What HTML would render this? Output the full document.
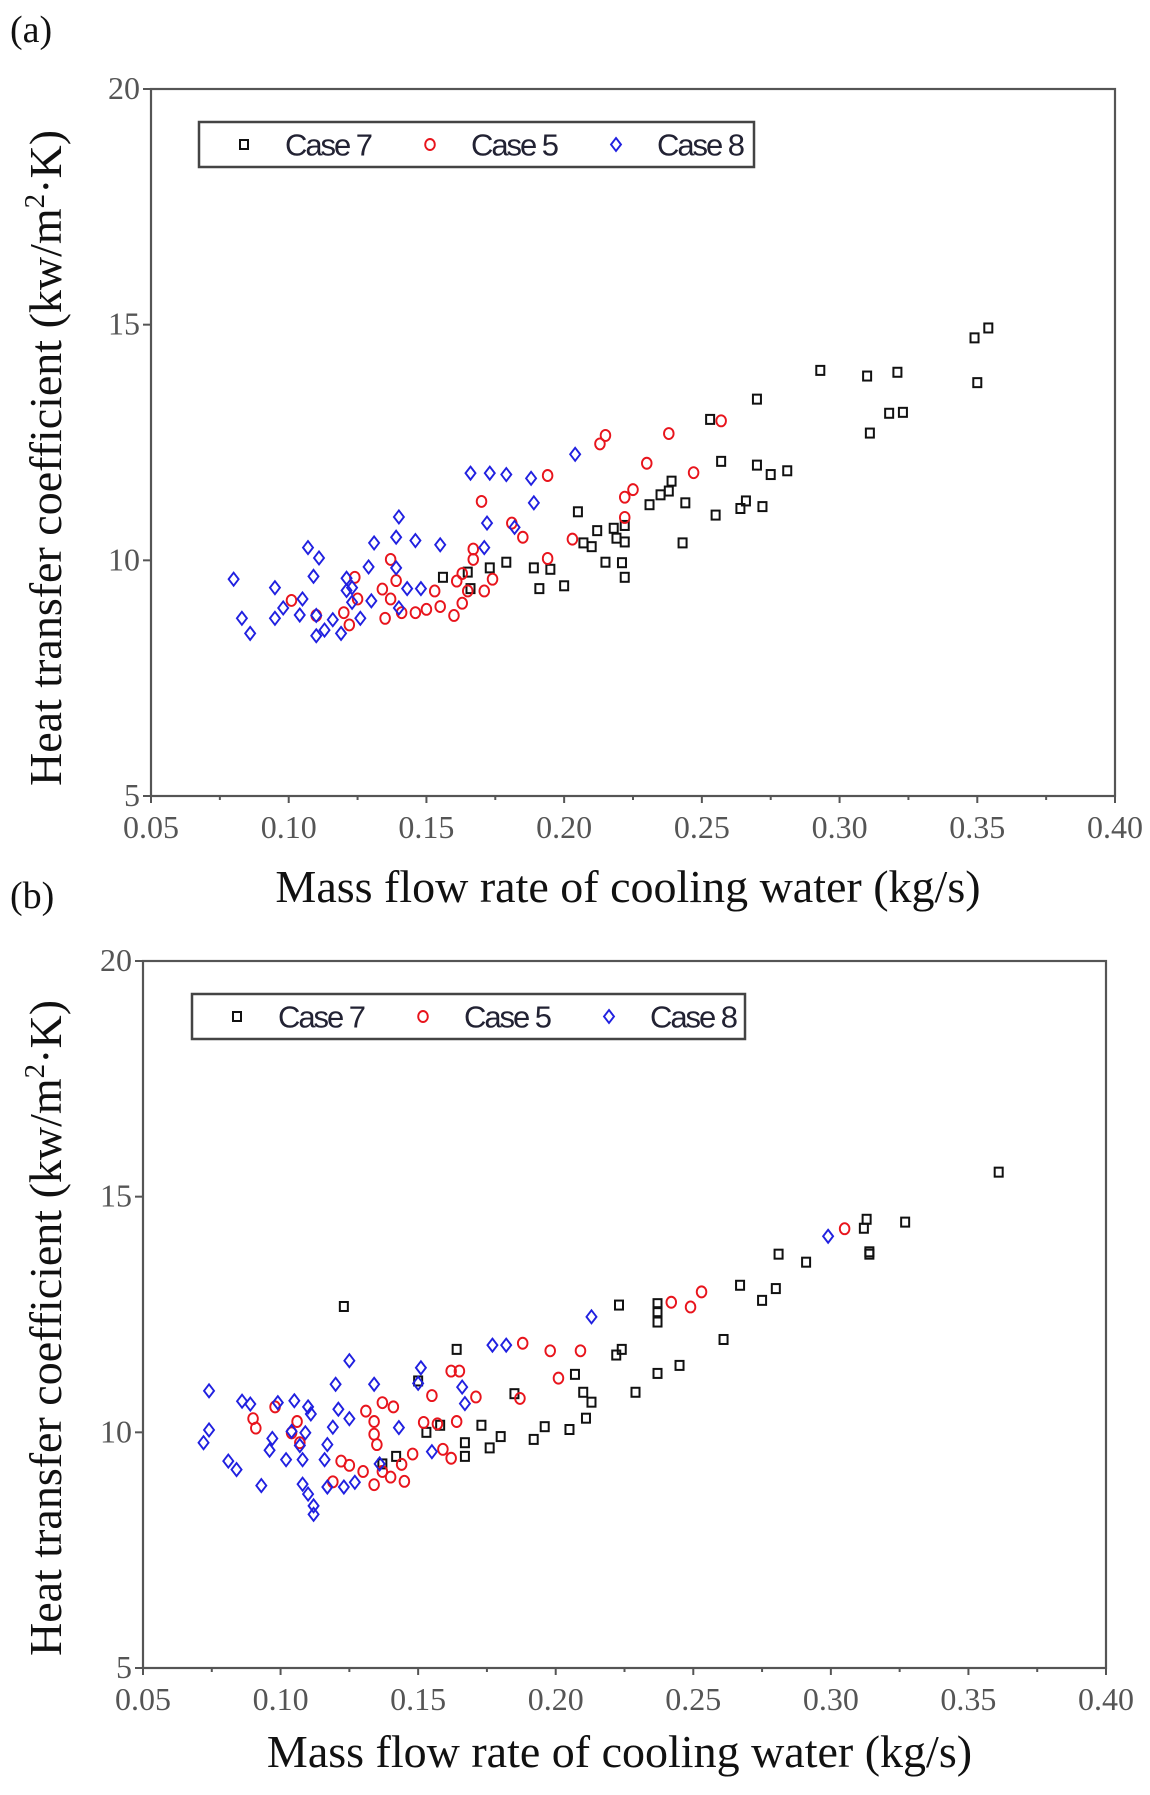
<!DOCTYPE html>
<html><head><meta charset="utf-8"><style>
html,body{margin:0;padding:0;background:#fff;}
svg{display:block;}
</style></head><body>
<svg id="fig" width="1150" height="1795" viewBox="0 0 1150 1795" xmlns="http://www.w3.org/2000/svg"></svg>
<script>
const xTicks = [0.05,0.10,0.15,0.20,0.25,0.30,0.35,0.40];
const xTickLabels = ["0.05","0.10","0.15","0.20","0.25","0.30","0.35","0.40"];
const yTicks = [5,10,15,20];
const yTickLabels = ["5","10","15","20"];
const seriesNames = ["Case 7","Case 5","Case 8"];

const a7x=[0.354,0.349,0.350,0.293,0.310,0.321,0.270,0.311,0.318,0.323,0.253,0.257,0.270,0.275,0.281,0.255,0.266,0.264,0.272,0.239,0.238,0.235,0.231,0.244,0.243,0.205,0.212,0.218,0.222,0.207,0.210,0.219,0.222,0.215,0.221,0.222,0.179,0.173,0.189,0.195,0.191,0.200,0.156,0.165,0.166];
const a7y=[14.93,14.72,13.77,14.03,13.91,13.99,13.42,12.70,13.12,13.14,12.99,12.10,12.02,11.82,11.90,10.96,11.26,11.10,11.14,11.68,11.47,11.39,11.18,11.22,10.37,11.03,10.63,10.68,10.74,10.37,10.29,10.47,10.39,9.96,9.95,9.64,9.96,9.84,9.84,9.81,9.40,9.46,9.64,9.75,9.40];
const a5x=[0.257,0.238,0.215,0.213,0.230,0.247,0.194,0.225,0.222,0.170,0.222,0.203,0.185,0.181,0.194,0.167,0.167,0.137,0.174,0.163,0.161,0.165,0.153,0.139,0.134,0.137,0.125,0.141,0.146,0.150,0.155,0.160,0.171,0.135,0.120,0.122,0.110,0.101,0.124,0.163];
const a5y=[12.96,12.69,12.65,12.47,12.06,11.86,11.80,11.50,11.34,11.25,10.91,10.45,10.49,10.79,10.04,10.24,10.02,10.02,9.60,9.72,9.56,9.35,9.35,9.57,9.39,9.18,9.18,8.89,8.89,8.96,9.02,8.83,9.35,8.77,8.89,8.63,8.83,9.15,9.64,9.09];
const a8x=[0.080,0.083,0.086,0.095,0.095,0.098,0.104,0.105,0.107,0.111,0.109,0.110,0.110,0.113,0.116,0.119,0.121,0.121,0.123,0.123,0.126,0.129,0.130,0.131,0.139,0.139,0.140,0.140,0.143,0.146,0.148,0.155,0.166,0.173,0.179,0.188,0.189,0.204,0.172,0.171,0.182];
const a8y=[9.60,8.77,8.45,9.42,8.77,8.99,8.84,9.18,10.27,10.05,9.66,8.83,8.40,8.52,8.74,8.45,9.36,9.62,9.42,9.11,8.77,9.86,9.14,10.37,10.49,9.84,10.92,8.99,9.40,10.42,9.40,10.33,11.85,11.85,11.82,11.74,11.22,12.25,10.79,10.27,10.70];

const b7x=[0.361,0.327,0.313,0.312,0.314,0.314,0.281,0.291,0.267,0.280,0.275,0.237,0.237,0.237,0.223,0.261,0.224,0.222,0.245,0.237,0.229,0.207,0.210,0.213,0.211,0.185,0.205,0.196,0.192,0.180,0.176,0.173,0.167,0.167,0.158,0.153,0.164,0.123,0.150,0.142,0.137];
const b7y=[15.52,14.46,14.52,14.33,13.83,13.78,13.78,13.61,13.12,13.05,12.80,12.73,12.56,12.34,12.70,11.97,11.76,11.64,11.42,11.25,10.85,11.23,10.85,10.64,10.30,10.82,10.06,10.12,9.85,9.91,9.67,10.15,9.78,9.49,10.15,10.00,11.76,12.67,11.09,9.49,9.33];
const b5x=[0.305,0.253,0.249,0.242,0.188,0.198,0.209,0.201,0.187,0.162,0.165,0.155,0.171,0.137,0.141,0.131,0.134,0.134,0.135,0.152,0.157,0.164,0.106,0.104,0.090,0.091,0.098,0.122,0.125,0.130,0.134,0.140,0.145,0.144,0.148,0.159,0.162,0.119,0.137,0.107];
const b5y=[14.32,12.98,12.66,12.76,11.89,11.73,11.73,11.15,10.72,11.30,11.30,10.78,10.75,10.63,10.54,10.45,10.23,9.96,9.74,10.21,10.18,10.23,10.23,9.99,10.29,10.09,10.54,9.39,9.30,9.17,8.89,9.05,8.96,9.32,9.54,9.64,9.45,8.95,9.17,9.78];
const b8x=[0.299,0.213,0.177,0.182,0.125,0.151,0.150,0.134,0.120,0.166,0.167,0.074,0.086,0.089,0.099,0.105,0.110,0.111,0.121,0.125,0.119,0.104,0.109,0.074,0.072,0.097,0.096,0.102,0.107,0.108,0.117,0.116,0.108,0.110,0.112,0.112,0.081,0.084,0.093,0.117,0.123,0.127,0.136,0.143,0.155];
const b8y=[14.16,12.45,11.85,11.85,11.52,11.37,11.04,11.02,11.02,10.96,10.61,10.88,10.66,10.60,10.63,10.67,10.54,10.39,10.49,10.29,10.11,10.02,9.99,10.05,9.78,9.87,9.62,9.42,9.72,9.42,9.74,9.42,8.90,8.69,8.44,8.26,9.39,9.21,8.87,8.84,8.84,8.94,9.33,10.10,9.59];

const NS="http://www.w3.org/2000/svg";
const svg=document.getElementById('fig');
function mk(tag,attrs,parent){const e=document.createElementNS(NS,tag);for(const k in attrs)e.setAttribute(k,attrs[k]);(parent||svg).appendChild(e);return e;}
const colors=["#111","#e8141c","#2020e0"];

function marker(g,kind,cx,cy,col){
  let e;
  if(kind===0){e=mk('rect',{x:cx-4,y:cy-4.5,width:8,height:9,fill:'none',stroke:col,'stroke-width':2},g);}
  else if(kind===1){e=mk('ellipse',{cx:cx,cy:cy,rx:4.8,ry:5.5,fill:'none',stroke:col,'stroke-width':1.9},g);}
  else {e=mk('polygon',{points:`${cx},${cy-6.5} ${cx+5},${cy} ${cx},${cy+6.5} ${cx-5},${cy}`,fill:'none',stroke:col,'stroke-width':1.9},g);}
  return e;
}

function chart(cfg){
  const {L,R,T,B,label,labelY,titleY,legend,series,name,yTitleC}=cfg;
  const g=mk('g',{});
  
  
  const sx=v=>L+(v-0.05)/(0.40-0.05)*(R-L);
  const sy=v=>B-(v-5)/(20-5)*(B-T);
  const pl=mk('text',{x:10,y:labelY,'font-family':'Liberation Serif, serif','font-size':38,fill:'#111'},g);
  pl.textContent=label;
  
  
  const fr=mk('rect',{x:L,y:T,width:R-L,height:B-T,fill:'none',stroke:'#555','stroke-width':2.2},g);
  
  
  xTicks.forEach((t,i)=>{
    const x=sx(t);
    mk('line',{x1:x,y1:B,x2:x,y2:B+7,stroke:'#555','stroke-width':2},g);
    if(i<xTicks.length-1){const xm=sx(t+0.025);mk('line',{x1:xm,y1:B,x2:xm,y2:B+4,stroke:'#555','stroke-width':2},g);}
    const tl=mk('text',{x:x,y:B+42,'text-anchor':'middle','font-family':'Liberation Serif, serif','font-size':32,fill:'#555'},g);
    tl.textContent=xTickLabels[i];
    
    
  });
  yTicks.forEach((t,i)=>{
    const y=sy(t);
    mk('line',{x1:L-8,y1:y,x2:L,y2:y,stroke:'#555','stroke-width':2},g);
    const tl=mk('text',{x:L-11,y:y+10,'text-anchor':'end','font-family':'Liberation Serif, serif','font-size':32,fill:'#555'},g);
    tl.textContent=yTickLabels[i];
    
    
  });
  const xt=mk('text',{x:(L+R)/2-5,y:titleY,'text-anchor':'middle','font-family':'Liberation Serif, serif','font-size':46,fill:'#111'},g);
  xt.textContent='Mass flow rate of cooling water (kg/s)';
  
  
  const yt=mk('text',{x:0,y:0,transform:`translate(61,${yTitleC}) rotate(-90)`,'text-anchor':'middle','font-family':'Liberation Serif, serif','font-size':46,fill:'#111'},g);
  yt.innerHTML='Heat transfer coefficient (kw/m<tspan dy="-17" font-size="29">2</tspan><tspan dy="17">·K)</tspan>';
  
  
  const lg=mk('g',{},g);
  
  
  mk('rect',{x:legend.x,y:legend.y,width:legend.w,height:legend.h,fill:'#fff',stroke:'#444','stroke-width':2.5},lg);
  seriesNames.forEach((n,i)=>{
    const ox=legend.x+i*186;
    const cy=legend.y+legend.h/2;
    const m=marker(lg,i,ox+45,cy,colors[i]);
    
    
    const t=mk('text',{x:ox+86,y:cy+11,'font-family':'Liberation Sans, sans-serif','font-size':31,fill:'#223','textLength':88},lg);
    t.textContent=n;
    
    
  });
  series.forEach((s,k)=>{
    const sg=mk('g',{},g);
    
    
    s[0].forEach((xv,j)=>{
      const m=marker(sg,k,sx(xv),sy(s[1][j]),colors[k]);
      
      
    });
  });
}

chart({name:'chart-a',L:151,R:1115,T:89,B:796,label:'(a)',labelY:42,titleY:902,yTitleC:458,
  legend:{x:199,y:122,w:555,h:45},
  series:[[a7x,a7y],[a5x,a5y],[a8x,a8y]]});
chart({name:'chart-b',L:143,R:1106,T:961,B:1668,label:'(b)',labelY:908,titleY:1767,yTitleC:1328,
  legend:{x:192,y:994,w:553,h:45},
  series:[[b7x,b7y],[b5x,b5y],[b8x,b8y]]});
</script>
</body></html>
